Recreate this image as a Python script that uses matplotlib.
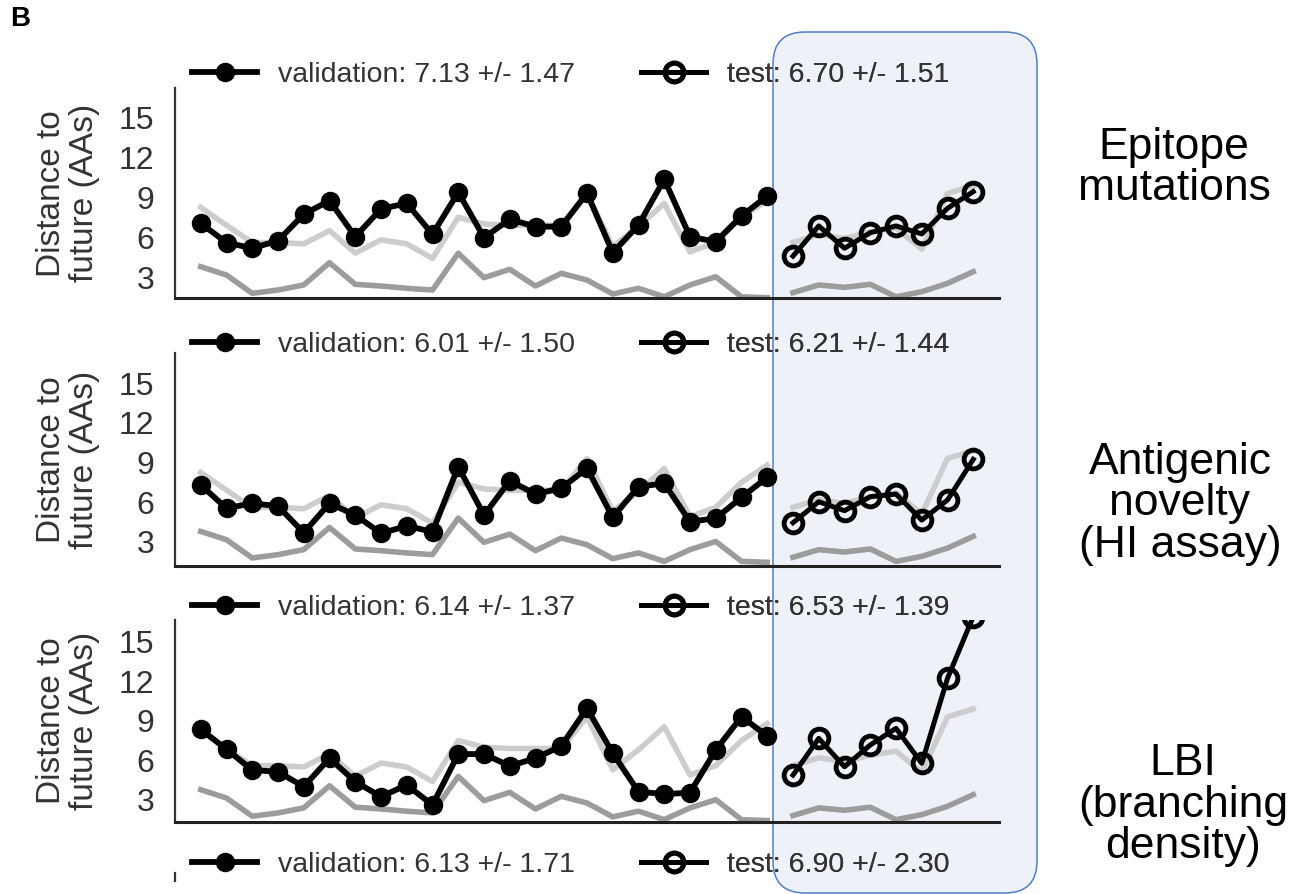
import numpy as np
import matplotlib
matplotlib.use('Agg')
import matplotlib.pyplot as plt
from matplotlib.patches import FancyBboxPatch
from matplotlib.lines import Line2D
from matplotlib.transforms import IdentityTransform

plt.rcParams['font.family'] = ['Liberation Sans', 'DejaVu Sans']

# distance to future (AAs) per season, validation then test
val_epitope = [7.05, 5.59, 5.17, 5.74, 7.73, 8.76, 6.04, 8.13, 8.56, 6.22, 9.39, 5.97,
               7.35, 6.80, 6.80, 9.32, 4.83, 6.92, 10.37, 6.04, 5.66, 7.60, 9.11]
test_epitope = [4.58, 6.85, 5.17, 6.34, 6.85, 6.25, 8.18, 9.44]
val_hi = [7.30, 5.53, 5.91, 5.70, 3.68, 5.91, 5.02, 3.64, 4.19, 3.76, 8.68, 5.02,
          7.62, 6.61, 7.05, 8.56, 4.85, 7.17, 7.42, 4.52, 4.77, 6.36, 7.88]
test_hi = [4.44, 6.03, 5.35, 6.41, 6.61, 4.64, 6.16, 9.24]
val_lbi = [8.36, 6.84, 5.27, 5.14, 4.01, 6.16, 4.39, 3.25, 4.14, 2.62, 6.48, 6.48,
           5.58, 6.16, 7.09, 9.95, 6.54, 3.63, 3.45, 3.55, 6.79, 9.31, 7.85]
test_lbi = [4.89, 7.67, 5.52, 7.17, 8.43, 5.78, 12.22, 16.9]

# reference lines (same in every panel)
naive_val = [8.25, 6.9, 5.6, 5.6, 5.5, 6.5, 4.8, 5.8, 5.5, 4.4, 7.5, 7.0,
             6.9, 6.9, 6.9, 9.3, 5.3, 6.8, 8.55, 4.9, 5.6, 7.5, 8.8]
naive_test = [5.6, 6.2, 5.9, 6.4, 6.7, 5.1, 9.3, 9.9]
optimal_val = [3.78, 3.15, 1.77, 2.02, 2.40, 4.08, 2.45, 2.32, 2.15, 2.02, 4.79, 2.95,
               3.58, 2.32, 3.28, 2.77, 1.72, 2.15, 1.51, 2.40, 3.02, 1.51, 1.44]
optimal_test = [1.82, 2.40, 2.22, 2.45, 1.51, 1.89, 2.52, 3.40]

val_labels = ['validation: 7.13 +/- 1.47', 'validation: 6.01 +/- 1.50',
              'validation: 6.14 +/- 1.37', 'validation: 6.13 +/- 1.71']
test_labels = ['test: 6.70 +/- 1.51', 'test: 6.21 +/- 1.44',
               'test: 6.53 +/- 1.39', 'test: 6.90 +/- 2.30']
row_names = ['Epitope\nmutations', 'Antigenic\nnovelty\n(HI assay)', 'LBI\n(branching\ndensity)']
yticks = [3, 6, 9, 12, 15]

W, H = 1292, 894
fig = plt.figure(figsize=(W / 100, H / 100), dpi=100)


def px_rect(x0, y0, x1, y1):
    return [x0 / W, 1 - y1 / H, (x1 - x0) / W, (y1 - y0) / H]


# shaded test box (pixel coords, origin bottom-left), drawn under the axes
box = FancyBboxPatch((773, H - 893), 1037 - 773, 893 - 32,
                     boxstyle='round,pad=0,rounding_size=32',
                     transform=IdentityTransform(), facecolor='#eef2f8',
                     edgecolor='#4f7fc4', lw=1.1, zorder=-5)
fig.patches.append(box)

x_val = np.arange(len(val_epitope))
x_test = np.arange(len(val_epitope), len(val_epitope) + len(test_epitope))

panels = [(88, 298.5), (353, 566), (620, 821.5)]
ylims = [(1.38, 17.25), (1.16, 17.3), (1.37, 16.64)]
legend_y = [75, 345, 608, 865]
vals = [val_epitope, val_hi, val_lbi]
tests = [test_epitope, test_hi, test_lbi]
name_pos = [(1174, 168), (1180, 504), (1183, 805)]

val_style = dict(color='k', marker='o', lw=4.2, ms=13)
test_style = dict(color='k', marker='o', lw=3.6, ms=13.5, mfc='none', mew=3.5)


def add_legends(ax, i):
    h1 = Line2D([], [], **val_style)
    h2 = Line2D([], [], **test_style)
    for h, lab, x in [(h1, val_labels[i], 192), (h2, test_labels[i], 641)]:
        leg = ax.legend([h], [lab], loc='center left', bbox_to_anchor=(x / W, 1 - legend_y[i] / H),
                        bbox_transform=fig.transFigure, frameon=False, borderpad=0,
                        borderaxespad=0, handlelength=2.3, handletextpad=0.72,
                        fontsize=20.5, labelcolor='#333333')
        ax.add_artist(leg)


for i, (top, bottom) in enumerate(panels):
    ax = fig.add_axes(px_rect(175, top, 999, bottom))
    ax.set_facecolor('none')
    ax.plot(x_val, naive_val, color='#cdcdcd', lw=4, zorder=1)
    ax.plot(x_test, naive_test, color='#cdcdcd', lw=4, zorder=1)
    ax.plot(x_val, optimal_val, color='#9c9c9c', lw=4, zorder=1)
    ax.plot(x_test, optimal_test, color='#9c9c9c', lw=4, zorder=1)
    ax.plot(x_val, vals[i], zorder=3, **val_style)
    ax.plot(x_test, tests[i], zorder=3, **test_style)
    ax.set_xlim(-1, 31)
    ax.set_ylim(*ylims[i])
    ax.set_xticks([])
    ax.set_yticks(yticks)
    ax.tick_params(axis='y', length=0, pad=15, labelsize=23, labelcolor='#333333')
    for s in ['top', 'right']:
        ax.spines[s].set_visible(False)
    ax.spines['left'].set_color('#333333')
    ax.spines['left'].set_linewidth(1.6)
    ax.spines['bottom'].set_color('#222222')
    ax.spines['bottom'].set_linewidth(2.2)
    add_legends(ax, i)
    fig.text(68 / W, 1 - (top + bottom) / 2 / H, 'Distance to\nfuture (AAs)', rotation=90,
             ha='center', va='center', fontsize=24, color='#333333', linespacing=1.1)
    fig.text(name_pos[i][0] / W, 1 - name_pos[i][1] / H, row_names[i], ha='center', va='center',
             multialignment='center', fontsize=32, linespacing=1.02)

# next panel, cut off at the bottom of the figure
ax4 = fig.add_axes(px_rect(175, 873, 999, 881))
ax4.set_facecolor('none')
ax4.set_xticks([])
ax4.set_yticks([])
for s in ['top', 'right', 'bottom']:
    ax4.spines[s].set_visible(False)
ax4.spines['left'].set_color('#333333')
ax4.spines['left'].set_linewidth(1.6)
add_legends(ax4, 3)

fig.text(10 / W, 1 - 19 / H, 'B', fontsize=20, fontweight='bold', va='center')

fig.savefig('out.png', dpi=100)
